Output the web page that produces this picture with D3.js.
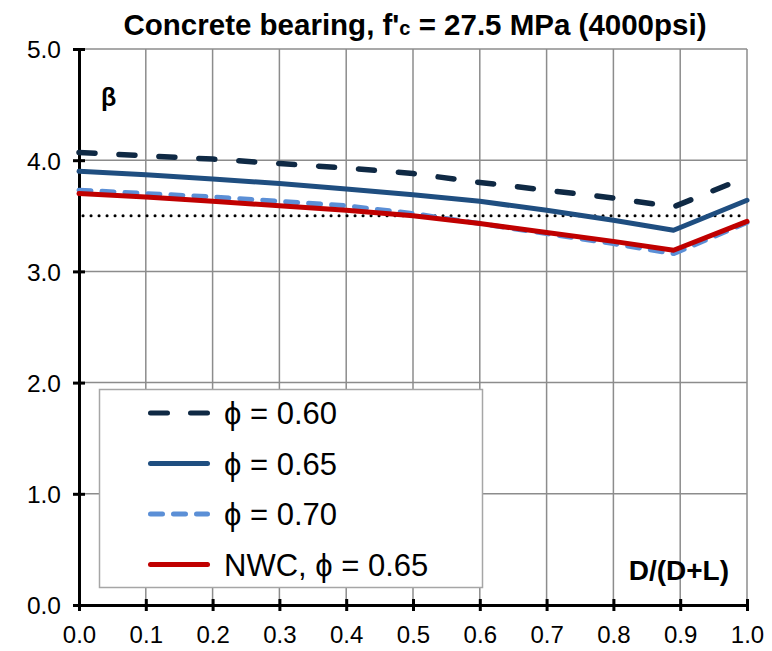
<!DOCTYPE html>
<html><head><meta charset="utf-8">
<script src="https://cdn.jsdelivr.net/npm/d3@7/dist/d3.min.js"></script>
<style>body{margin:0;background:#fff}svg{display:block}</style>
</head><body>
<svg id="c" width="772" height="651"></svg>
<script>
const xVals = [0, 0.1, 0.2, 0.3, 0.4, 0.5, 0.6, 0.7, 0.8, 0.89, 1.0];
const phi060 = [4.07, 4.04, 4.01, 3.97, 3.93, 3.88, 3.80, 3.73, 3.66, 3.58, 3.85];
const phi065 = [3.90, 3.87, 3.83, 3.79, 3.74, 3.69, 3.63, 3.55, 3.46, 3.37, 3.64];
const phi070 = [3.73, 3.70, 3.67, 3.63, 3.59, 3.52, 3.43, 3.34, 3.25, 3.16, 3.44];
const nwc065 = [3.70, 3.67, 3.63, 3.59, 3.55, 3.50, 3.43, 3.35, 3.27, 3.19, 3.45];
const targetBeta = 3.5;
const xTicks = [0, 0.1, 0.2, 0.3, 0.4, 0.5, 0.6, 0.7, 0.8, 0.9, 1.0];
const yTicks = [0, 1, 2, 3, 4, 5];
const legendLabels = ["\u03d5 = 0.60", "\u03d5 = 0.65", "\u03d5 = 0.70", "NWC, \u03d5 = 0.65"];

const svg = d3.select("#c");
const L = 79, R = 747, T = 49, B = 605;
const x = d3.scaleLinear().domain([0, 1]).range([L, R]);
const y = d3.scaleLinear().domain([0, 5]).range([B, T]);
const sans = "'Liberation Sans',Arial,sans-serif";

// grid
svg.append("g").selectAll("line").data(xTicks.slice(1)).join("line")
  .attr("x1", d => x(d)).attr("x2", d => x(d)).attr("y1", T).attr("y2", B)
  .attr("stroke", "#8c8c8c").attr("stroke-width", 1.5);
svg.append("g").selectAll("line").data(yTicks.slice(1)).join("line")
  .attr("x1", L).attr("x2", R).attr("y1", d => y(d)).attr("y2", d => y(d))
  .attr("stroke", "#8c8c8c").attr("stroke-width", 1.5);

// axes
const xAxis = svg.append("g").attr("transform", `translate(0,${B})`)
  .call(d3.axisBottom(x).tickValues(xTicks).tickFormat(d3.format(".1f")).tickSizeInner(6).tickSizeOuter(0).tickPadding(15));
xAxis.select(".domain").attr("stroke", "#000").attr("stroke-width", 3);
xAxis.selectAll(".tick line").attr("stroke", "#000").attr("stroke-width", 3).attr("y1", -6).attr("y2", 6);
xAxis.selectAll("text").attr("font-family", sans).attr("font-size", 24).attr("fill", "#000");

const yAxis = svg.append("g").attr("transform", `translate(${L},0)`)
  .call(d3.axisLeft(y).tickValues(yTicks).tickFormat(d3.format(".1f")).tickSizeInner(6).tickSizeOuter(0).tickPadding(12));
yAxis.select(".domain").attr("stroke", "#000").attr("stroke-width", 3);
yAxis.selectAll(".tick line").attr("stroke", "#000").attr("stroke-width", 3).attr("x1", -6).attr("x2", 6);
yAxis.selectAll("text").attr("font-family", sans).attr("font-size", 24.5).attr("fill", "#000").attr("dy", "0.36em");

// target line
svg.append("line").attr("x1", x(0) + 4).attr("x2", x(1)).attr("y1", y(targetBeta)).attr("y2", y(targetBeta))
  .attr("stroke", "#000").attr("stroke-width", 3).attr("stroke-dasharray", "0.1 7.9").attr("stroke-linecap", "round");

const line = d3.line().x((d, i) => x(xVals[i])).y(d => y(d));
const series = [
  {vals: phi070, color: "#5b8fd6", dash: "12 11", w: 5},
  {vals: nwc065, color: "#c00000", dash: null, w: 5},
  {vals: phi065, color: "#1f4e80", dash: null, w: 5},
  {vals: phi060, color: "#0f2944", dash: "16 24", w: 5.5},
];
series.forEach(s => {
  svg.append("path").datum(s.vals).attr("d", line).attr("fill", "none")
    .attr("stroke", s.color).attr("stroke-width", s.w).attr("stroke-linecap", "round")
    .attr("stroke-linejoin", "round").attr("stroke-dasharray", s.dash);
});

// legend
const lg = svg.append("g");
lg.append("rect").attr("x", 99.5).attr("y", 389.5).attr("width", 383).attr("height", 198)
  .attr("fill", "#fff").attr("stroke", "#a6a6a6").attr("stroke-width", 1.5);
const legSeries = [
  {color: "#0f2944", dash: "17 23"},
  {color: "#1f4e80", dash: null},
  {color: "#5b8fd6", dash: "12 11"},
  {color: "#c00000", dash: null},
];
legSeries.forEach((s, i) => {
  const yy = 413 + i * 50.5;
  lg.append("line").attr("x1", 150.5).attr("x2", 207.5).attr("y1", yy).attr("y2", yy)
    .attr("stroke", s.color).attr("stroke-width", 5).attr("stroke-linecap", "round")
    .attr("stroke-dasharray", s.dash);
  lg.append("text").attr("x", 224).attr("y", yy + 11).text(legendLabels[i])
    .attr("font-family", sans).attr("font-size", 31).attr("fill", "#000");
});

// title
const t = svg.append("text").attr("x", 415).attr("y", 35).attr("text-anchor", "middle")
  .attr("font-family", sans).attr("font-size", 29.5).attr("font-weight", "bold").attr("fill", "#000");
t.append("tspan").text("Concrete bearing, f'");
t.append("tspan").text("c").attr("font-size", 20);
t.append("tspan").text(" = 27.5 MPa (4000psi)");

svg.append("text").attr("x", 101).attr("y", 106).text("\u03b2")
  .attr("font-family", sans).attr("font-size", 25).attr("font-weight", "bold");
svg.append("text").attr("x", 729).attr("y", 580).attr("text-anchor", "end").text("D/(D+L)")
  .attr("font-family", sans).attr("font-size", 28).attr("font-weight", "bold");
</script>
</body></html>
